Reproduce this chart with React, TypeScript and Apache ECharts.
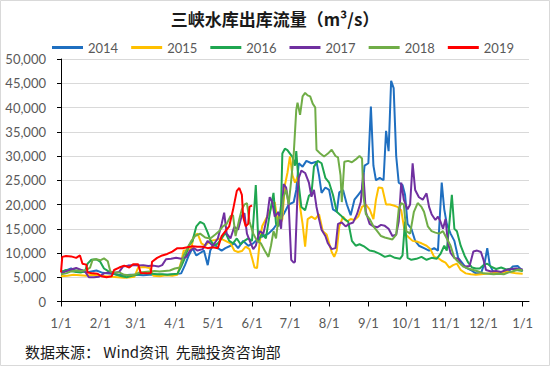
import React, { useEffect, useRef } from "react";
import * as echarts from "echarts";

const seriesNames = ["2014", "2015", "2016", "2017", "2018", "2019"];
const seriesColors = ["#1f6fc0", "#ffc000", "#1fa650", "#7030a0", "#70ad47", "#ff0000"];

const monthStarts = [0, 31, 59, 90, 120, 151, 181, 212, 243, 273, 304, 334, 365];
const tickLabels = ["1/1", "2/1", "3/1", "4/1", "5/1", "6/1", "7/1", "8/1", "9/1", "10/1", "11/1", "12/1", "1/1"];

// [day of year, m³/s]
const s2014: [number, number][] = [[0,6200],[4,6400],[8,6800],[12,6300],[16,6500],[20,6000],[24,6200],[28,6400],[32,6000],[36,5800],[40,5700],[45,5500],[50,5400],[55,5500],[60,5500],[65,5400],[70,5500],[75,5500],[80,5500],[85,5500],[90,5600],[95,5800],[98,7500],[101,9500],[104,11000],[107,9500],[110,10000],[113,10500],[116,7500],[118,10500],[121,12000],[124,11000],[127,10500],[130,11000],[134,11500],[137,12000],[140,11000],[144,12500],[148,11500],[152,12000],[156,13000],[160,13500],[164,14000],[168,15000],[172,16500],[176,18000],[180,20000],[184,20500],[186,23000],[188,28500],[191,27800],[194,29000],[198,28500],[202,28800],[204,26000],[206,22400],[209,23500],[212,23000],[215,19000],[218,18500],[220,22500],[223,23000],[226,20000],[229,17800],[232,21000],[235,22000],[238,23000],[240,28000],[243,28500],[245,40200],[247,28000],[249,25000],[252,25500],[255,25000],[257,35200],[259,31000],[261,45500],[263,44000],[265,30000],[267,24500],[270,24000],[272,22000],[274,16000],[277,15000],[280,12500],[283,11500],[287,11000],[291,10500],[295,11000],[298,10500],[301,24500],[303,19000],[305,16000],[308,14000],[311,12500],[314,9000],[317,8000],[320,7000],[324,6500],[328,5800],[332,5800],[335,8000],[337,11000],[339,7500],[342,6000],[346,5800],[350,6000],[354,6200],[357,7200],[361,7300],[365,6300]];

const s2015: [number, number][] = [[0,5200],[5,5300],[10,5500],[15,5400],[20,5300],[25,5500],[30,5300],[35,5200],[40,5100],[45,5000],[50,4900],[55,5000],[58,5100],[61,7000],[66,7100],[70,6900],[73,5300],[78,5200],[83,5400],[88,5300],[92,5500],[95,8200],[97,10500],[100,10500],[103,11000],[105,13500],[108,14000],[111,12000],[114,11500],[118,12500],[122,12700],[126,13000],[130,12500],[134,12000],[137,10500],[140,10200],[143,10400],[146,11300],[149,10800],[151,9000],[153,7000],[155,6900],[157,12000],[159,15500],[162,17000],[165,18500],[167,20000],[169,20500],[171,17000],[173,15800],[175,17000],[177,24000],[179,26500],[181,29900],[183,26000],[185,24500],[187,25700],[189,19500],[191,16000],[193,11300],[195,17000],[198,17500],[201,17000],[204,18000],[207,14500],[210,13800],[212,12000],[214,10200],[216,9200],[218,10500],[220,15500],[223,17500],[226,16500],[229,17000],[232,16800],[235,17500],[238,19500],[241,20000],[244,19000],[247,17000],[249,21000],[251,23500],[254,23400],[257,20000],[260,20000],[263,19800],[266,19500],[269,18800],[272,14000],[275,13200],[278,12500],[282,12300],[285,12000],[289,11500],[292,10800],[295,9200],[298,9000],[301,8400],[304,8000],[307,7000],[310,7500],[313,7800],[316,6500],[320,5800],[324,5600],[328,5500],[332,5600],[336,5700],[340,5800],[344,6000],[348,5900],[352,6200],[356,6000],[360,5800],[365,5700]];

const s2016: [number, number][] = [[0,6000],[4,6500],[8,6300],[12,6100],[16,6000],[19,6200],[21,7800],[24,8600],[28,8700],[31,8200],[34,6800],[37,6300],[40,6000],[44,5500],[48,5200],[52,5000],[56,5300],[60,5500],[64,5800],[68,5800],[72,5700],[76,5600],[80,5600],[84,5500],[88,5600],[92,5700],[95,7200],[98,9000],[101,11500],[104,12500],[107,15500],[110,16400],[113,16000],[116,14200],[118,12700],[121,11500],[124,12000],[127,13000],[130,14200],[133,12500],[136,12000],[139,13000],[142,11800],[145,12500],[148,13000],[151,12500],[153,20000],[154,24000],[156,12500],[159,14000],[162,13000],[165,18000],[168,22400],[170,16000],[172,15500],[174,20000],[175,30500],[177,31500],[179,31200],[181,30500],[183,29800],[185,28000],[186,31000],[188,24000],[190,19500],[193,18800],[196,21800],[198,22200],[200,27800],[203,29000],[206,28500],[209,25500],[212,24500],[215,22000],[218,18500],[221,17800],[224,17000],[227,16500],[230,12500],[233,11500],[236,11800],[240,11300],[244,10500],[248,10300],[252,9800],[256,9200],[260,9500],[264,9000],[268,8800],[270,9500],[272,16500],[274,9000],[277,8600],[281,8800],[285,9200],[289,8600],[293,9000],[297,8800],[300,9800],[303,11500],[305,10500],[307,16000],[309,22000],[311,15000],[313,14500],[316,11500],[319,9500],[322,8000],[325,7000],[328,6800],[331,6800],[334,7500],[337,7800],[340,7200],[344,6700],[348,7000],[352,6600],[356,6800],[360,6500],[365,6300]];

const s2017: [number, number][] = [[0,5800],[4,6200],[8,6600],[12,6900],[16,6500],[19,6200],[22,5000],[26,5000],[30,5100],[34,5800],[38,6000],[42,5900],[46,6100],[49,7200],[53,7400],[57,7500],[61,7400],[65,7500],[69,7300],[73,7400],[77,7200],[80,7500],[83,8700],[87,8800],[91,9000],[95,8800],[99,9200],[102,10500],[105,11000],[108,10500],[112,10800],[116,12500],[120,11500],[124,13000],[127,16000],[129,18300],[131,14000],[134,13000],[137,15400],[140,14800],[143,17800],[145,18200],[147,14000],[150,12000],[152,10800],[154,11500],[157,14500],[160,14000],[163,17500],[165,21500],[167,20500],[169,17500],[172,18500],[174,15000],[176,24200],[178,23500],[180,20000],[182,8600],[184,8000],[185,8200],[187,22400],[188,25500],[190,27000],[193,26500],[196,24500],[198,21600],[200,23000],[202,19500],[204,17000],[206,14800],[209,13500],[211,12000],[214,10800],[217,11000],[219,16000],[222,16300],[225,15500],[228,16000],[231,16300],[234,18000],[237,20500],[239,26500],[241,18500],[244,16000],[247,15500],[250,15300],[253,15800],[256,15600],[259,15000],[262,13500],[265,13800],[267,16500],[269,24500],[271,21000],[274,19000],[276,20000],[278,28500],[280,23000],[283,21500],[286,21000],[289,22300],[291,19500],[293,18000],[296,16800],[298,17500],[300,16500],[302,15000],[304,17000],[306,12000],[308,10000],[311,9000],[314,8800],[317,7500],[320,7200],[323,7300],[326,10300],[329,10500],[332,10200],[334,8600],[336,6500],[340,6200],[344,6300],[348,6100],[352,6500],[356,6700],[360,6800],[365,6600]];

const s2018: [number, number][] = [[0,5600],[4,5800],[8,6200],[12,6400],[16,6300],[20,6500],[23,7000],[25,8600],[28,8700],[31,8500],[34,8900],[37,8300],[39,6200],[42,6000],[46,6000],[50,5500],[54,5400],[58,5500],[62,6000],[66,6100],[70,6200],[74,6300],[78,6200],[82,6300],[86,6400],[90,6800],[94,7000],[97,9500],[100,11000],[103,12500],[106,13500],[110,14000],[114,13200],[118,13000],[122,13800],[125,14500],[128,15500],[131,16000],[134,17600],[136,17800],[138,13500],[141,17000],[143,19000],[145,20000],[147,20300],[149,16500],[152,14000],[155,12500],[158,12000],[161,10500],[164,9200],[166,11500],[168,14500],[170,13000],[172,17500],[174,17000],[176,21600],[178,23000],[180,20000],[182,25000],[184,30500],[186,39500],[187,41000],[189,38500],[191,42300],[193,43000],[195,42500],[197,42300],[199,40800],[201,40000],[202,31300],[205,30500],[208,29900],[211,30500],[214,31300],[217,30000],[219,29700],[221,26000],[222,20500],[224,28800],[227,29000],[230,28700],[233,29300],[236,30000],[238,29500],[239,22000],[241,18000],[244,17000],[247,15500],[250,14500],[253,13500],[256,13200],[259,13000],[262,12800],[265,13800],[267,19000],[269,20300],[271,20000],[273,14500],[276,14000],[279,18500],[282,20300],[285,19500],[287,18500],[290,15500],[293,14500],[296,14200],[299,14000],[302,14500],[305,13000],[308,11500],[311,9000],[314,8200],[318,7200],[322,6800],[326,6500],[330,6200],[334,5800],[338,5700],[342,5600],[346,5700],[350,5600],[354,6000],[358,6300],[362,6600],[365,6400]];

const s2019: [number, number][] = [[0,6000],[1,9200],[4,9400],[8,9300],[12,9000],[15,9500],[17,7800],[20,7600],[21,6000],[25,5800],[29,5700],[32,5200],[36,5000],[40,5200],[42,6500],[46,7000],[50,7400],[54,7000],[57,7700],[61,7700],[63,5900],[68,5800],[71,5900],[72,8200],[76,9000],[80,9500],[84,9800],[88,10300],[92,11000],[96,11000],[100,11200],[104,11400],[108,11300],[112,11300],[116,11000],[120,11200],[124,11000],[127,13500],[130,14500],[133,15500],[136,18900],[139,22800],[141,23400],[143,22000],[144,17500],[146,15500],[148,16000],[149,19500],[151,19800]];

const allSeries = [s2014, s2015, s2016, s2017, s2018, s2019];

const titleText = "三峡水库出库流量（m³/s）";
const sourceText = "数据来源： Wind资讯  先融投资咨询部";

const numFont = "Lato, 'Noto Sans CJK SC', sans-serif";
const cjkFont = "'Noto Sans CJK SC', sans-serif";

export default function App() {
  const ref = useRef<HTMLDivElement>(null);
  useEffect(() => {
    if (!ref.current) return;
    const chart = echarts.init(ref.current, null, { renderer: "svg" });
    chart.setOption({
      animation: false,
      backgroundColor: "#ffffff",
      title: {
        text: titleText,
        left: "center",
        top: 5,
        textStyle: { fontFamily: cjkFont, fontSize: 17, fontWeight: "bold", color: "#1a1a1a" },
      },
      legend: {
        left: 47,
        top: 36,
        icon: "rect",
        itemWidth: 31,
        itemHeight: 3,
        itemGap: 13,
        textStyle: { fontFamily: numFont, fontSize: 13, color: "#595959" },
        data: seriesNames,
      },
      graphic: [
        {
          type: "rect",
          shape: { x: 0.5, y: 0.5, width: 549, height: 365 },
          style: { fill: "none", stroke: "#d9d9d9", lineWidth: 1 },
          silent: true,
        },
        {
          type: "text",
          left: 25,
          top: 344,
          style: { text: sourceText, fontFamily: cjkFont, fontSize: 15, fill: "#1a1a1a" },
        },
      ],
      grid: { left: 61, right: 21, top: 59, bottom: 64.5, containLabel: false },
      xAxis: {
        type: "value",
        min: 0,
        max: 370,
        splitLine: { show: false },
        axisLine: { show: true, lineStyle: { color: "#000000", width: 1 } },
        axisTick: { show: true, customValues: monthStarts, length: 5, lineStyle: { color: "#000000" } },
        axisLabel: {
          customValues: monthStarts,
          margin: 15,
          fontFamily: numFont,
          fontSize: 13,
          color: "#595959",
          formatter: (v: number) => tickLabels[monthStarts.indexOf(v)] ?? "",
        },
      },
      yAxis: {
        type: "value",
        min: 0,
        max: 50000,
        interval: 5000,
        splitLine: { show: true, lineStyle: { color: "#d9d9d9", width: 1 } },
        axisLine: { show: true, lineStyle: { color: "#000000", width: 1 } },
        axisTick: { show: true, length: 4, lineStyle: { color: "#000000" } },
        axisLabel: {
          margin: 15,
          fontFamily: numFont,
          fontSize: 13,
          color: "#595959",
          formatter: (v: number) => v.toLocaleString("en-US"),
        },
      },
      series: allSeries.map((d, i) => ({
        name: seriesNames[i],
        type: "line",
        data: d,
        showSymbol: false,
        symbol: "none",
        lineStyle: { width: 2, color: seriesColors[i] },
        itemStyle: { color: seriesColors[i] },
      })),
    });
    return () => chart.dispose();
  }, []);
  return <div ref={ref} style={{ position: "fixed", left: 0, top: 0, width: 550, height: 366 }} />;
}
